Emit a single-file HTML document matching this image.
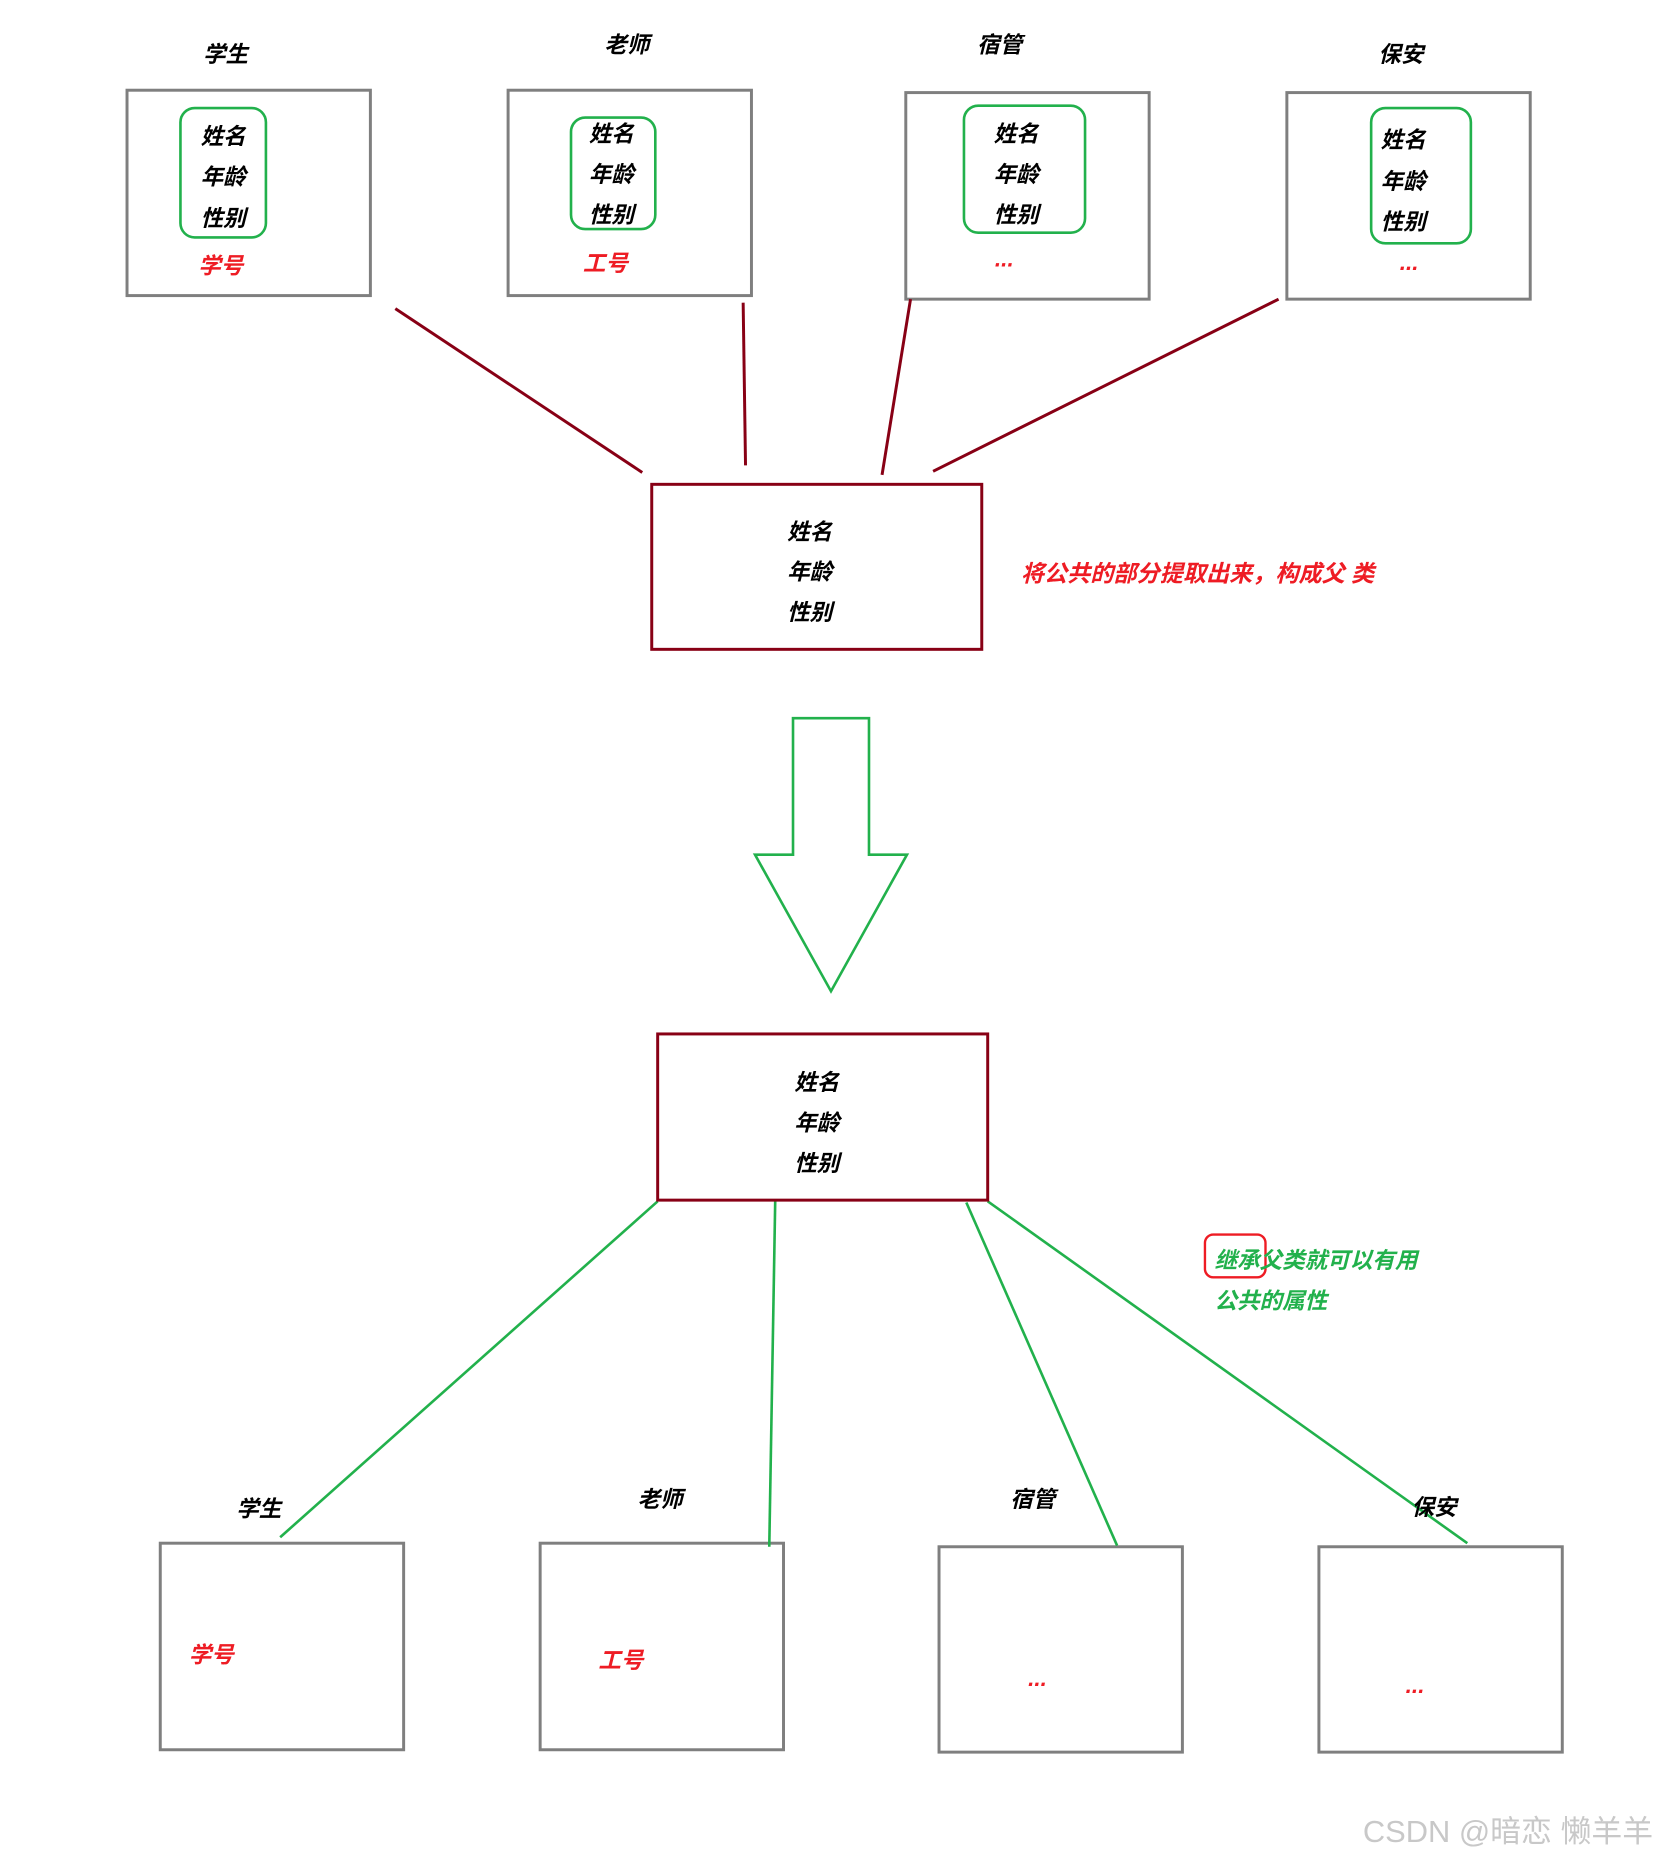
<!DOCTYPE html>
<html><head><meta charset="utf-8"><style>html,body{margin:0;padding:0;background:#fff}svg{display:block}
text{font-family:"Liberation Sans","Noto Sans CJK SC",sans-serif;font-weight:bold;font-style:italic;font-size:19px;dominant-baseline:central;text-anchor:middle}
.r{fill:#ee1c24}.g{fill:#22b14c}.w{fill:#c8c8c8;font-weight:normal;font-style:normal;font-size:26px;text-anchor:start}</style></head>
<body>
<svg width="1662" height="1863" viewBox="0 0 1400 1569.4" preserveAspectRatio="none">
<g fill="none" stroke="#7f7f7f" stroke-width="2.5">
<rect x="107" y="76" width="205" height="173"/>
<rect x="428" y="76" width="205" height="173"/>
<rect x="763" y="78" width="205" height="174"/>
<rect x="1084" y="78" width="205" height="174"/>
<rect x="135" y="1300" width="205" height="174"/>
<rect x="455" y="1300" width="205" height="174"/>
<rect x="791" y="1303" width="205" height="173"/>
<rect x="1111" y="1303" width="205" height="173"/>
</g>
<g fill="none" stroke="#22b14c" stroke-width="2.2">
<rect x="152" y="91" width="72" height="109" rx="12"/>
<rect x="481" y="99" width="71" height="94" rx="12"/>
<rect x="812" y="89" width="102" height="107" rx="12"/>
<rect x="1155" y="91" width="84" height="114" rx="12"/>
<polygon points="668,605 732,605 732,720 764,720 700,835 636,720 668,720"/>
<line x1="554" y1="1012" x2="236" y2="1295"/>
<line x1="653" y1="1012" x2="648" y2="1303"/>
<line x1="814" y1="1013" x2="941" y2="1302"/>
<line x1="832" y1="1012" x2="1236" y2="1300"/>
</g>
<g fill="none" stroke="#880015" stroke-width="2.5">
<rect x="549" y="408" width="278" height="139"/>
<rect x="554" y="871" width="278" height="140"/>
<line x1="333" y1="260" x2="541" y2="398"/>
<line x1="626" y1="255" x2="628" y2="392"/>
<line x1="767" y1="252" x2="743" y2="400"/>
<line x1="1077" y1="252" x2="786" y2="397"/>
</g>
<rect x="1015" y="1040" width="51" height="36" rx="7" fill="none" stroke="#ee1c24" stroke-width="2"/>
<text x="190" y="46">学生</text><text x="528" y="38">老师</text><text x="842" y="38">宿管</text><text x="1180" y="46">保安</text>
<text x="188" y="115">姓名</text><text x="188" y="149">年龄</text><text x="188" y="184">性别</text>
<text x="515" y="113">姓名</text><text x="515" y="147">年龄</text><text x="515" y="181">性别</text>
<text x="856" y="113">姓名</text><text x="856" y="147">年龄</text><text x="856" y="181">性别</text>
<text x="1182" y="118">姓名</text><text x="1182" y="153">年龄</text><text x="1182" y="187">性别</text>
<text class="r" x="186" y="224">学号</text><text class="r" x="510" y="222">工号</text><text class="r" x="846" y="218">...</text><text class="r" x="1187" y="221">...</text>
<text x="682" y="448">姓名</text><text x="682" y="482">年龄</text><text x="682" y="516">性别</text>
<text class="r" x="860" y="483" style="text-anchor:start;font-size:19.5px">将公共的部分提取出来，构成父 类</text>
<text x="688" y="912">姓名</text><text x="688" y="946">年龄</text><text x="688" y="980">性别</text>
<text class="g" x="1023" y="1062" style="text-anchor:start;font-size:19px">继承父类就可以有用</text>
<text class="g" x="1023" y="1096" style="text-anchor:start;font-size:19px">公共的属性</text>
<text x="218" y="1271">学生</text><text x="556" y="1263">老师</text><text x="870" y="1263">宿管</text><text x="1208" y="1270">保安</text>
<text class="r" x="178" y="1394">学号</text><text class="r" x="523" y="1399">工号</text><text class="r" x="874" y="1414">...</text><text class="r" x="1192" y="1420">...</text>
<text class="w" x="1148" y="1543">CSDN @暗恋 懒羊羊</text>
</svg>
</body></html>
